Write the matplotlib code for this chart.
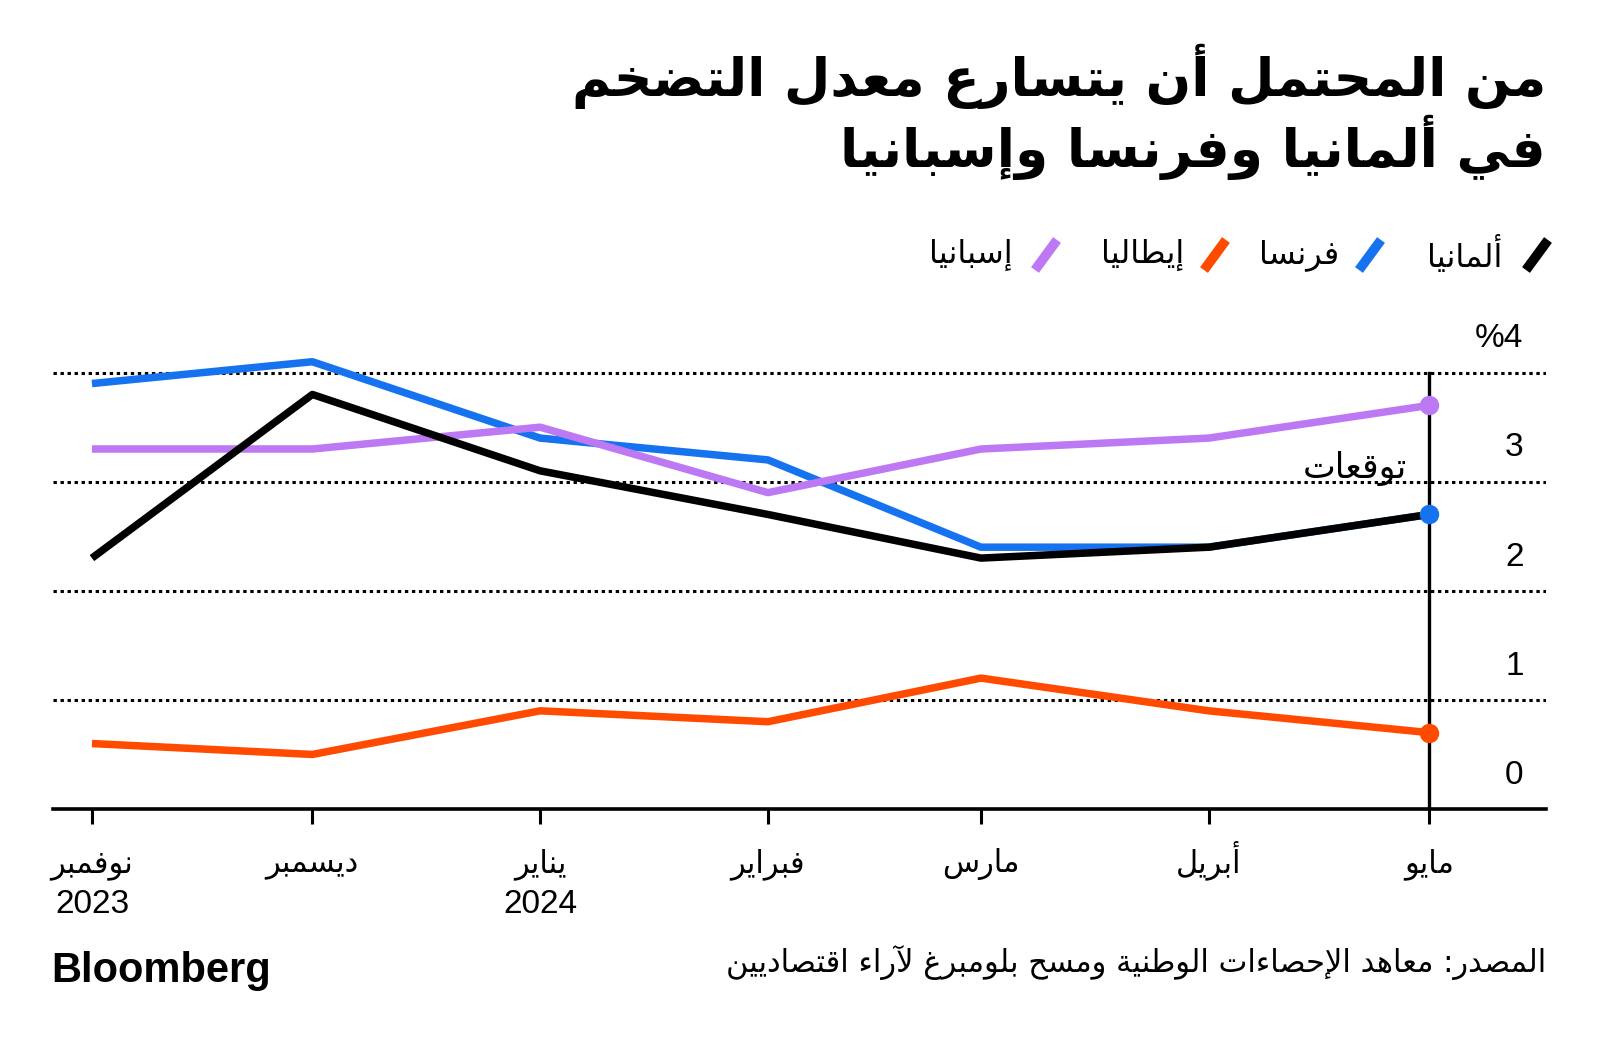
import pandas as pd
import matplotlib
matplotlib.use('Agg')
import matplotlib.pyplot as plt
from matplotlib.lines import Line2D

plt.rcParams['font.family'] = ['Liberation Sans', 'DejaVu Sans']

# ---- data ----
months = pd.to_datetime(['2023-11-01', '2023-12-01', '2024-01-01', '2024-02-01',
                         '2024-03-01', '2024-04-01', '2024-05-01'])
month_names = ['نوفمبر', 'ديسمبر', 'يناير', 'فبراير', 'مارس', 'أبريل', 'مايو']
year_labels = ['2023', '', '2024', '', '', '', '']

germany = [2.3, 3.8, 3.1, 2.7, 2.3, 2.4, 2.7]
france = [3.9, 4.1, 3.4, 3.2, 2.4, 2.4, 2.7]
italy = [0.6, 0.5, 0.9, 0.8, 1.2, 0.9, 0.7]
spain = [3.3, 3.3, 3.5, 2.9, 3.3, 3.4, 3.7]

y_ticks = [0, 1, 2, 3, 4]
y_labels = ['0', '1', '2', '3', '%4']

title_1 = 'من المحتمل أن يتسارع معدل التضخم'
title_2 = 'في ألمانيا وفرنسا وإسبانيا'
legend_names = ['ألمانيا', 'فرنسا', 'إيطاليا', 'إسبانيا']
forecast_label = 'توقعات'
source = 'المصدر: معاهد الإحصاءات الوطنية ومسح بلومبرغ لآراء اقتصاديين'

C_GER = '#000000'
C_FRA = '#1673ef'
C_ITA = '#ff4a00'
C_ESP = '#bd78f4'

AR_FONT = ['DejaVu Sans']


# ---- minimal arabic shaping (presentation forms + RTL) ----
def _forms(base, n):
    return tuple(chr(base + k) for k in range(n))

FORMS = {
    'ء': _forms(0xFE80, 1), 'آ': _forms(0xFE81, 2), 'أ': _forms(0xFE83, 2),
    'ؤ': _forms(0xFE85, 2), 'إ': _forms(0xFE87, 2), 'ئ': _forms(0xFE89, 4),
    'ا': _forms(0xFE8D, 2), 'ب': _forms(0xFE8F, 4), 'ة': _forms(0xFE93, 2),
    'ت': _forms(0xFE95, 4), 'ث': _forms(0xFE99, 4), 'ج': _forms(0xFE9D, 4),
    'ح': _forms(0xFEA1, 4), 'خ': _forms(0xFEA5, 4), 'د': _forms(0xFEA9, 2),
    'ذ': _forms(0xFEAB, 2), 'ر': _forms(0xFEAD, 2), 'ز': _forms(0xFEAF, 2),
    'س': _forms(0xFEB1, 4), 'ش': _forms(0xFEB5, 4), 'ص': _forms(0xFEB9, 4),
    'ض': _forms(0xFEBD, 4), 'ط': _forms(0xFEC1, 4), 'ظ': _forms(0xFEC5, 4),
    'ع': _forms(0xFEC9, 4), 'غ': _forms(0xFECD, 4), 'ف': _forms(0xFED1, 4),
    'ق': _forms(0xFED5, 4), 'ك': _forms(0xFED9, 4), 'ل': _forms(0xFEDD, 4),
    'م': _forms(0xFEE1, 4), 'ن': _forms(0xFEE5, 4), 'ه': _forms(0xFEE9, 4),
    'و': _forms(0xFEED, 2), 'ى': _forms(0xFEEF, 2), 'ي': _forms(0xFEF1, 4),
    'لآ': _forms(0xFEF5, 2), 'لأ': _forms(0xFEF7, 2), 'لإ': _forms(0xFEF9, 2),
    'لا': _forms(0xFEFB, 2),
}


def ar(text):
    tokens = []
    i = 0
    while i < len(text):
        pair = text[i:i + 2]
        if pair in FORMS and len(pair) == 2:
            tokens.append(pair)
            i += 2
        else:
            tokens.append(text[i])
            i += 1
    out = []
    for k, t in enumerate(tokens):
        if t not in FORMS:
            out.append(t)
            continue
        f = FORMS[t]
        prev_join = k > 0 and tokens[k - 1] in FORMS and len(FORMS[tokens[k - 1]]) == 4
        next_join = len(f) == 4 and k + 1 < len(tokens) and tokens[k + 1] in FORMS
        if prev_join and next_join:
            out.append(f[3])
        elif prev_join and len(f) > 1:
            out.append(f[1])
        elif next_join:
            out.append(f[2])
        else:
            out.append(f[0])
    return ''.join(reversed(out))


# ---- figure ----
fig = plt.figure(figsize=(16, 10.46), dpi=100)
W, H = 1600, 1046
AX_BOTTOM, AX_H = 809, 480
ax = fig.add_axes([53 / W, 1 - AX_BOTTOM / H, (1546 - 53) / W, AX_H / H])

LW = 5.4
ax.plot(months, france, color=C_FRA, lw=LW, solid_capstyle='butt', zorder=3)
ax.plot(months, spain, color=C_ESP, lw=LW, solid_capstyle='butt', zorder=4)
ax.plot(months, italy, color=C_ITA, lw=LW, solid_capstyle='butt', zorder=4)
ax.plot(months, germany, color=C_GER, lw=LW, solid_capstyle='butt', zorder=5)

ax.plot(months[-1], spain[-1], 'o', color=C_ESP, ms=13, zorder=7)
ax.plot(months[-1], france[-1], 'o', color=C_FRA, ms=13, zorder=7)
ax.plot(months[-1], italy[-1], 'o', color=C_ITA, ms=13, zorder=7)

# forecast divider
ax.plot([months[-1], months[-1]], [0, 4], color='black', lw=2.4, zorder=6)
ax.text(months[-1] - pd.Timedelta(days=3.0), 3.12, ar(forecast_label),
        ha='right', va='center', fontsize=25, family=AR_FONT, zorder=8)

# grid
for v in y_ticks[1:]:
    ax.axhline(v, color='black', lw=2.2, linestyle=(0, (1.1, 1.2)), zorder=1)
for v, lab in zip(y_ticks, y_labels):
    ax.text(0.985, v + 0.31, lab, transform=ax.get_yaxis_transform(),
            ha='right', va='center', fontsize=24)

ax.set_xlim(months[0] - pd.Timedelta(days=5.3), months[-1] + pd.Timedelta(days=15.9))
ax.set_ylim(0, 4.4)

for s in ['top', 'right', 'left']:
    ax.spines[s].set_visible(False)
ax.spines['bottom'].set_linewidth(2.6)
ax.set_yticks([])
ax.set_xticks(months)
ax.set_xticklabels([])
ax.tick_params(axis='x', length=11, width=2.2)
ax.patch.set_alpha(0)

xt = ax.get_xaxis_transform()
for d, m, y in zip(months, month_names, year_labels):
    ax.text(d, (AX_BOTTOM - 872) / AX_H, ar(m), transform=xt, ha='center',
            va='baseline', fontsize=22, family=AR_FONT)
    if y:
        ax.text(d, (AX_BOTTOM - 913) / AX_H, y, transform=xt, ha='center',
                va='baseline', fontsize=24)

# title
fig.text(1546 / W, 1 - 76 / H, ar(title_1), ha='right', va='center',
         fontsize=38.5, fontweight='bold', family=AR_FONT)
fig.text(1546 / W, 1 - 147 / H, ar(title_2), ha='right', va='center',
         fontsize=38.5, fontweight='bold', family=AR_FONT)

# legend (right to left)
leg_colors = [C_GER, C_FRA, C_ITA, C_ESP]
slash_right = [1548, 1381, 1226, 1057]
text_right = [1502, 1339, 1184, 1013]
ly = 1 - 255 / H
for name, col, sx, tx in zip(legend_names, leg_colors, slash_right, text_right):
    fig.add_artist(Line2D([(sx - 22) / W, sx / W], [ly - 15 / H, ly + 15 / H],
                          color=col, lw=7, solid_capstyle='butt',
                          transform=fig.transFigure))
    fig.text(tx / W, ly, ar(name), ha='right', va='center', fontsize=23,
             family=AR_FONT)

# footer
fig.text(1546 / W, 1 - 962 / H, ar(source), ha='right', va='center',
         fontsize=22, family=AR_FONT)
fig.text(51 / W, 1 - 971 / H, 'Bloomberg', ha='left', va='center',
         fontsize=30, fontweight='bold', family='Liberation Sans')

fig.savefig('out.png', dpi=100)
